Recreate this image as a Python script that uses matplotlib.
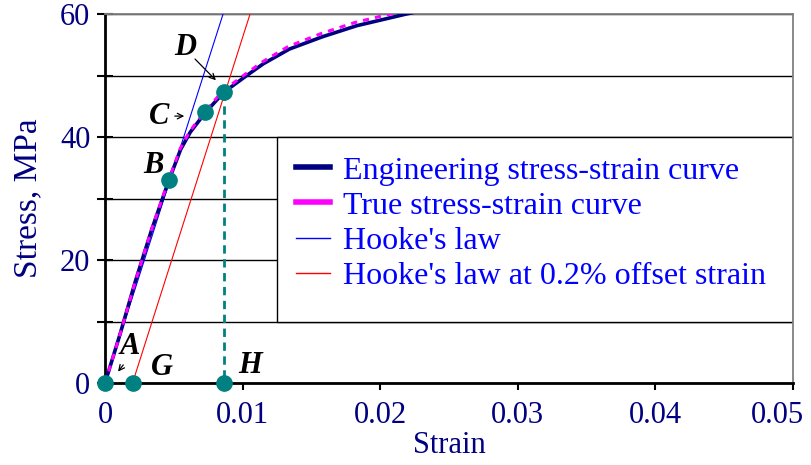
import matplotlib
matplotlib.use("Agg")
import matplotlib.pyplot as plt
from matplotlib.lines import Line2D
from matplotlib.patches import Rectangle
from matplotlib.transforms import ScaledTranslation

plt.rcParams['font.family'] = ['Liberation Serif', 'DejaVu Serif']

# ---- data ----
eng_strain = [0, 0.0011, 0.0022, 0.0034, 0.00465, 0.0055, 0.0062, 0.0073, 0.00865,
              0.0103, 0.0115, 0.0134, 0.0158, 0.0183, 0.0219, 0.0250]
eng_stress = [0, 8.0, 16.5, 25.0, 33.0, 38.0, 40.8, 44.0, 47.3,
              50.0, 51.9, 54.3, 56.3, 58.1, 60.0, 61.5]
true_strain = [0, 0.0011, 0.0022, 0.0034, 0.00464, 0.00548, 0.00618, 0.00727, 0.00861,
               0.01025, 0.01143, 0.0133, 0.01568, 0.01813, 0.02166, 0.0247]
true_stress = [0, 8.0, 16.5, 25.1, 33.1, 38.2, 41.0, 44.2, 47.6,
               50.3, 52.2, 54.7, 56.8, 58.6, 60.5, 62.0]
hooke_strain = [0, 0.00858]
hooke_stress = [0, 60]
offset_strain = [0.002, 0.01054]
offset_stress = [0, 60]
point_strain = [0, 0.002, 0.00865, 0.00465, 0.0073, 0.00865]
point_stress = [0, 0, 0, 33.0, 44.0, 47.3]
yield_strain = [0.00865, 0.00865]
yield_stress = [47.3, 0]

xticks = [0, 0.01, 0.02, 0.03, 0.04, 0.05]
xtick_labels = ['0', '0.01', '0.02', '0.03', '0.04', '0.05']
yticks = [0, 10, 20, 30, 40, 50, 60]
ytick_labels = ['0', '', '20', '', '40', '', '60']

legend_labels = ['Engineering stress-strain curve', 'True stress-strain curve',
                 "Hooke's law", "Hooke's law at 0.2% offset strain"]

# annotation letters: (text, x, y)
letters = [('A', 0.00182, 5.9), ('G', 0.00414, 2.6), ('H', 0.01054, 2.8),
           ('B', 0.00349, 35.4), ('C', 0.00392, 43.4), ('D', 0.00581, 54.6)]

navy = '#000080'
teal = '#008080'

fig = plt.figure(figsize=(8.11, 4.65), dpi=100)
ax = fig.add_axes([0.1295, 0.1763, 0.8483, 0.7936])
ax.set_xlim(0, 0.05)
ax.set_ylim(0, 60)

ax.set_yticks(yticks)
ax.set_yticklabels(ytick_labels)
ax.set_xticks(xticks)
ax.set_xticklabels(xtick_labels)
ax.grid(axis='y', color='black', lw=1.0, zorder=1)
ax.set_axisbelow(True)

for s in ['left', 'bottom']:
    ax.spines[s].set_color('black')
    ax.spines[s].set_linewidth(2.0)
for s in ['top', 'right']:
    ax.spines[s].set_color('#808080')
    ax.spines[s].set_linewidth(1.3)

ax.tick_params(axis='y', direction='inout', length=11, width=1.5, colors='black',
               labelcolor=navy, labelsize=22, pad=5)
ax.tick_params(axis='x', direction='out', length=5, width=1.5, colors='black',
               labelcolor=navy, labelsize=22, pad=8)

# last x tick label sits against the right edge, as in the reference
lbl = ax.get_xticklabels()[-1]
lbl.set_transform(lbl.get_transform() + ScaledTranslation(-16 / 100, 0, fig.dpi_scale_trans))

ax.set_xlabel('Strain', color=navy, fontsize=22, labelpad=1)
ax.set_ylabel('Stress, MPa', color=navy, fontsize=24, labelpad=12)

# legend box (covering gridlines)
ax.add_patch(Rectangle((0.25, 10 / 60), 0.75, 0.5, transform=ax.transAxes,
                       facecolor='white', edgecolor='black', lw=1.0, zorder=2))

ax.plot(hooke_strain, hooke_stress, color='#0000FF', lw=0.8, zorder=3)
ax.plot(offset_strain, offset_stress, color='#FF0000', lw=0.8, zorder=3)
ax.plot(eng_strain, eng_stress, color=navy, lw=2.6, zorder=4)
ax.plot(true_strain, true_stress, color='#FF00FF', lw=2.2, ls=(0, (2, 2)), zorder=5)
ax.plot(yield_strain, yield_stress, color=teal, lw=2.0, ls=(0, (3, 2)), zorder=4)
ax.plot(point_strain, point_stress, 'o', color=teal, ms=11, zorder=6, clip_on=False)

for t, x, y in letters:
    ax.text(x, y, t, fontsize=22, fontweight='bold', fontstyle='italic',
            ha='center', va='center', color='black', zorder=7)

arrow = dict(arrowstyle='->', color='black', lw=0.9)
ax.annotate('', xy=(0.00082, 1.5), xytext=(0.00145, 3.3), arrowprops=arrow, zorder=7)
ax.annotate('', xy=(0.00596, 43.4), xytext=(0.00487, 43.4), arrowprops=arrow, zorder=7)
ax.annotate('', xy=(0.0082, 48.9), xytext=(0.0064, 53.0), arrowprops=arrow, zorder=7)

handles = [Line2D([], [], color=navy, lw=4),
           Line2D([], [], color='#FF00FF', lw=4),
           Line2D([], [], color='#0000FF', lw=1),
           Line2D([], [], color='#FF0000', lw=1)]
leg = ax.legend(handles, legend_labels, loc='upper left', bbox_to_anchor=(0.25, 40 / 60),
                frameon=False, fontsize=23, handlelength=1.05, handletextpad=0.4,
                labelspacing=0.18, borderpad=0.6, borderaxespad=0)
for txt in leg.get_texts():
    txt.set_color('#0000FF')
leg.set_zorder(8)

fig.savefig('out.png', dpi=100)
